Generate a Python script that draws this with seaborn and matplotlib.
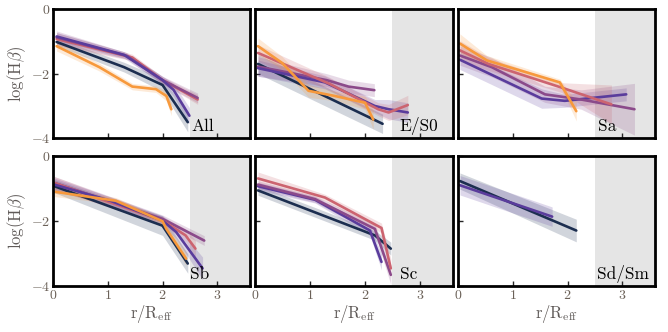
import numpy as np
import pandas as pd
import matplotlib
import matplotlib.pyplot as plt
import seaborn as sns

# series colours
colors = {'navy': '#1c2e50', 'indigo': '#5a3c9c', 'plum': '#8b4a8a',
          'rose': '#cc6470', 'orange': '#f7993c'}

# each panel: series -> (r, logHb, band half width)
all_data = {
    'navy':   ([0.07, 1.3, 2.0, 2.46], [-1.02, -1.8, -2.35, -3.5], [0.12, 0.15, 0.2, 0.3]),
    'orange': ([0.07, 0.85, 1.45, 1.88, 2.07, 2.16], [-1.15, -1.8, -2.4, -2.48, -2.69, -3.1], [0.15, 0.12, 0.1, 0.1, 0.15, 0.2]),
    'rose':   ([0.07, 1.45, 2.0, 2.64], [-0.93, -1.5, -2.2, -2.8], [0.2, 0.1, 0.1, 0.15]),
    'plum':   ([0.07, 1.35, 2.0, 2.64], [-0.88, -1.45, -2.2, -2.75], [0.2, 0.1, 0.12, 0.15]),
    'indigo': ([0.07, 1.3, 2.0, 2.2, 2.49], [-0.85, -1.42, -2.2, -2.5, -3.3], [0.12, 0.1, 0.12, 0.2, 0.25]),
}
es0_data = {
    'navy':   ([0.05, 2.32], [-1.7, -3.55], [0.3, 0.3]),
    'plum':   ([0.05, 1.3, 1.7, 2.17], [-1.78, -2.2, -2.4, -2.51], [0.3, 0.2, 0.2, 0.2]),
    'indigo': ([0.05, 1.27, 2.18, 2.43, 2.78], [-1.83, -2.27, -3.0, -3.1, -3.2], [0.25, 0.2, 0.2, 0.3, 0.3]),
    'rose':   ([0.05, 1.36, 2.24, 2.43, 2.78], [-1.36, -2.32, -3.1, -3.2, -2.97], [0.25, 0.2, 0.2, 0.25, 0.3]),
    'orange': ([0.05, 0.49, 0.97, 1.45, 2.0, 2.15], [-1.15, -1.67, -2.53, -2.69, -2.9, -3.42], [0.25, 0.2, 0.2, 0.15, 0.2, 0.3]),
}
sa_data = {
    'indigo': ([0.04, 1.53, 1.95, 3.07], [-1.57, -2.77, -2.84, -2.64], [0.3, 0.3, 0.2, 0.2]),
    'plum':   ([0.04, 0.62, 1.59, 2.25, 3.22], [-1.44, -1.8, -2.64, -2.8, -3.1], [0.3, 0.3, 0.25, 0.3, 0.8]),
    'rose':   ([0.04, 0.56, 1.89, 2.8], [-1.28, -1.7, -2.43, -2.95], [0.3, 0.2, 0.15, 0.6]),
    'orange': ([0.04, 0.53, 1.86, 2.16], [-1.07, -1.59, -2.27, -3.16], [0.3, 0.15, 0.1, 0.3]),
}
sb_data = {
    'navy':   ([0.03, 2.0, 2.46], [-0.92, -2.14, -3.31], [0.2, 0.3, 0.3]),
    'plum':   ([0.03, 2.0, 2.76], [-0.82, -1.93, -2.6], [0.2, 0.12, 0.15]),
    'rose':   ([0.03, 2.0, 2.42, 2.6], [-0.82, -1.98, -2.44, -2.85], [0.2, 0.12, 0.2, 0.25]),
    'indigo': ([0.03, 1.05, 2.0, 2.25, 2.73], [-0.87, -1.37, -1.98, -2.34, -3.46], [0.2, 0.12, 0.15, 0.2, 0.35]),
    'orange': ([0.03, 1.15, 2.0, 2.07, 2.43], [-1.09, -1.37, -2.0, -2.24, -3.16], [0.15, 0.1, 0.1, 0.12, 0.2]),
}
sc_data = {
    'navy':   ([0.05, 2.18, 2.47], [-1.05, -2.44, -2.85], [0.15, 0.15, 0.2]),
    'indigo': ([0.05, 1.09, 2.09, 2.3], [-0.92, -1.34, -2.29, -3.26], [0.12, 0.1, 0.15, 0.25]),
    'plum':   ([0.05, 1.09, 2.18, 2.47], [-0.87, -1.32, -2.24, -3.66], [0.12, 0.1, 0.15, 0.3]),
    'rose':   ([0.05, 1.27, 2.3, 2.47], [-0.68, -1.27, -2.21, -3.46], [0.2, 0.1, 0.15, 0.3]),
}
sd_data = {
    'navy':   ([0.04, 2.16], [-0.76, -2.29], [0.25, 0.35]),
    'indigo': ([0.04, 1.72], [-0.89, -1.86], [0.3, 0.3]),
}

panels = [('All', all_data, 2.52), ('E/S0', es0_data, 2.63), ('Sa', sa_data, 2.55),
          ('Sb', sb_data, 2.5), ('Sc', sc_data, 2.63), ('Sd/Sm', sd_data, 2.53)]

sns.set_style("ticks")
plt.rcParams['font.family'] = ['cmr10', 'DejaVu Serif']
plt.rcParams['mathtext.fontset'] = 'cm'
plt.rcParams['axes.formatter.use_mathtext'] = True
plt.rcParams['axes.unicode_minus'] = True

fig, axes = plt.subplots(2, 3, sharex=True, sharey=True, figsize=(6.68, 3.32), dpi=100)
fig.subplots_adjust(left=0.079, right=0.981, top=0.973, bottom=0.139, wspace=0.025, hspace=0.14)

for ax, (name, data, tx) in zip(axes.flat, panels):
    ax.axvspan(2.5, 3.6, color='#e5e5e5', lw=0, zorder=0)
    for key, (r, y, err) in data.items():
        r = np.array(r)
        y = np.array(y)
        err = np.array(err)
        ax.fill_between(r, y - err, y + err, color=colors[key], alpha=0.2, lw=0)
        sns.lineplot(x=r, y=y, ax=ax, color=colors[key], lw=1.9)
    ax.text(tx, -3.78, name, fontsize=12.5, color='black')
    ax.set_xlim(0, 3.6)
    ax.set_ylim(-4, 0)
    ax.set_xticks([0, 1, 2, 3])
    ax.set_yticks([0, -2, -4])
    ax.tick_params(direction='in', length=3.5, width=1, labelsize=10, labelcolor='#6b6158', pad=2)
    for s in ax.spines.values():
        s.set_linewidth(2)
        s.set_color('black')

for ax in axes[:, 0]:
    ax.set_ylabel(r'$\log(\mathrm{H}\beta)$', fontsize=12, color='#5f5a58', labelpad=2)
for ax in axes[1, :]:
    ax.set_xlabel(r'$\mathrm{r/R_{eff}}$', fontsize=12, color='#5f5a58', labelpad=1)

fig.savefig('out.png', dpi=100)
